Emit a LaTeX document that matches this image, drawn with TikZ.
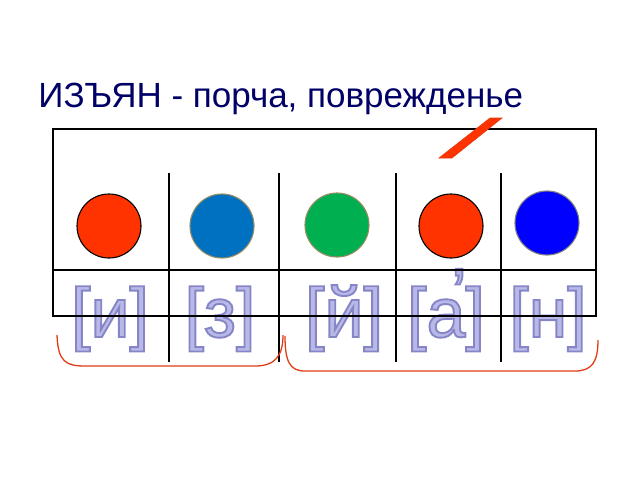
\documentclass[tikz,border=0pt]{standalone}
\usepackage{fontspec}
\setmainfont{Liberation Sans}
\definecolor{navy}{RGB}{0,0,102}
\definecolor{vowelred}{RGB}{255,51,0}
\definecolor{softblue}{RGB}{0,112,192}
\definecolor{softgreen}{RGB}{0,176,80}
\definecolor{hardblue}{RGB}{0,0,255}
\definecolor{rimolive}{RGB}{150,140,100}
\definecolor{lilac}{RGB}{185,185,232}
\definecolor{bracered}{RGB}{225,60,20}
\newcommand{\outlined}[1]{\special{pdf:literal direct 2 Tr 1.9 w 0.52 0.52 0.78 RG}#1\special{pdf:literal direct 0 Tr}}
\begin{document}
\begin{tikzpicture}[x=1pt,y=-1pt,thick,
    sound node/.style={circle,draw,minimum size=64pt,inner sep=0pt,line width=1.1pt},
    letter node/.style={anchor=base,inner sep=0pt,text=lilac,font=\fontsize{70}{70}\selectfont},
    brace line/.style={draw=bracered,line width=1.3pt}]
    \useasboundingbox (0,0) rectangle (640,480);
    \node[anchor=base west,inner sep=0pt,text=navy,font=\fontsize{35}{35}\selectfont] at (38,107) (title) {ИЗЪЯН - порча, поврежденье};

    \node[letter node] at (110,337) (li) {\outlined{[и]}};
    \node[letter node] at (220,337) (lz) {\outlined{[з]}};
    \node[letter node] at (344,337) (lj) {\outlined{[й]}};
    \node[letter node] at (446,337) (la) {\outlined{[а]}};
    \node[letter node] at (459,317) (stress) {\outlined{’}};
    \node[letter node] at (548,337) (ln) {\outlined{[н]}};

    % scheme
    \draw[line width=1.5pt] (53,129) rectangle (596,316);
    \draw[line width=1.5pt] (53,270) -- (596,270);
    \foreach \x in {169,279,396,501}
        \draw[line width=1.5pt] (\x,173) -- (\x,362);

    \node[sound node,fill=vowelred,draw=black] at (109,226) (i) {};
    \node[sound node,fill=softblue,draw=rimolive] at (222,226) (z) {};
    \node[sound node,fill=softgreen,draw=rimolive] at (337,225) (j) {};
    \node[sound node,fill=vowelred,draw=black] at (451,226) (a) {};
    \node[sound node,fill=hardblue,draw=gray] at (547,223) (n) {};

    % stress
    \filldraw[fill=vowelred,draw=bracered,line width=0.6pt] (439,158) -- (452,158) -- (502,118) -- (490,118) -- cycle;

    % syllables
    \path[brace line] (57,335) .. controls (58,362) and (66,366) .. (85,366) -- (255,366) .. controls (275,366) and (283,356) .. (283,335);
    \path[brace line] (285,336) .. controls (285,362) and (290,371) .. (305,371) -- (575,371) .. controls (592,371) and (598,362) .. (598,340);
\end{tikzpicture}
\end{document}
